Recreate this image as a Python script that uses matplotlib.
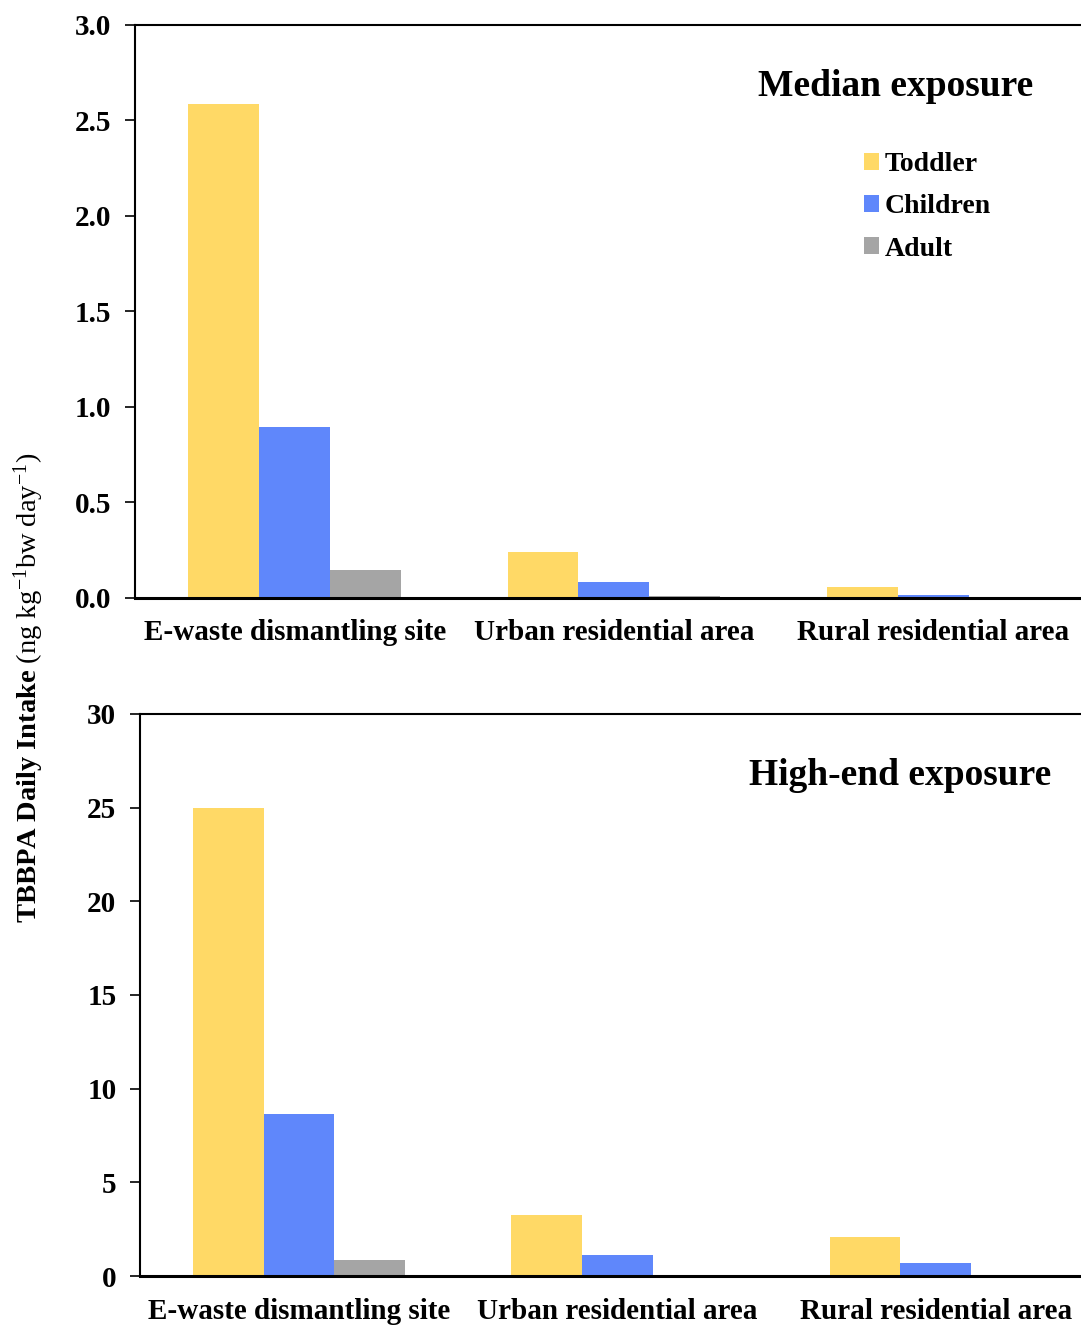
import matplotlib
matplotlib.use("Agg")
import matplotlib.pyplot as plt
import numpy as np

categories = ["E-waste dismantling site", "Urban residential area", "Rural residential area"]
groups = ["Toddler", "Children", "Adult"]
median_toddler = [2.586, 0.241, 0.058]
median_children = [0.895, 0.084, 0.016]
median_adult = [0.147, 0.010, 0.003]
high_toddler = [25.0, 3.26, 2.08]
high_children = [8.65, 1.12, 0.69]
high_adult = [0.85, 0.05, 0.02]
median_ticks = [0.0, 0.5, 1.0, 1.5, 2.0, 2.5, 3.0]
high_ticks = [0, 5, 10, 15, 20, 25, 30]
colors = ["#FFD966", "#5F87FB", "#A5A5A5"]

plt.rcParams["font.family"] = ["Liberation Serif", "DejaVu Serif"]
plt.rcParams["mathtext.fontset"] = "custom"
plt.rcParams["mathtext.rm"] = "Liberation Serif"
plt.rcParams["mathtext.bf"] = "Liberation Serif:bold"
plt.rcParams["mathtext.it"] = "Liberation Serif:italic"

fig = plt.figure(figsize=(10.81, 13.27), dpi=100)
ax1 = fig.add_axes([0.1249, 0.5494, 0.886, 0.4318])
ax2 = fig.add_axes([0.1295, 0.0384, 0.8834, 0.4236])

w = 0.222
x = np.arange(len(categories))

def draw(ax, series, ticks, fmt, title, tx, ty):
    for i, (vals, c, g) in enumerate(zip(series, colors, groups)):
        ax.bar(x + (i - 1) * w, vals, width=w, color=c, label=g, linewidth=0)
    ax.set_xlim(-0.5, 2.5)
    ax.set_ylim(ticks[0], ticks[-1])
    ax.set_yticks(ticks)
    ax.set_yticklabels([fmt.format(t) for t in ticks], fontsize=21, fontweight="bold")
    ax.set_xticks(x)
    ax.set_xticklabels(categories, fontsize=21, fontweight="bold")
    ax.tick_params(axis="x", length=0, pad=15.5)
    ax.tick_params(axis="y", direction="out", length=7, width=1.2, pad=10)
    ax.spines["right"].set_visible(False)
    ax.spines["left"].set_linewidth(1.5)
    ax.spines["top"].set_linewidth(1.5)
    ax.spines["bottom"].set_linewidth(2.2)
    ax.text(tx, ty, title, transform=ax.transAxes, ha="center", va="center",
            fontsize=27, fontweight="bold")

draw(ax1, [median_toddler, median_children, median_adult], median_ticks, "{:.1f}",
     "Median exposure", 0.794, 0.892)
draw(ax2, [high_toddler, high_children, high_adult], high_ticks, "{:d}",
     "High-end exposure", 0.796, 0.890)

leg = ax1.legend(loc="upper left", bbox_to_anchor=(0.761, 0.778), frameon=False,
                 prop={"size": 20, "weight": "bold"}, handlelength=0.55, handleheight=0.55,
                 handletextpad=0.2, labelspacing=0.62, borderpad=0, borderaxespad=0)

fig.text(0.027, 0.4815,
         r"$\mathbf{TBBPA\ Daily\ Intake}\ (\mathrm{ng\ kg^{-1}bw\ day^{-1}})$",
         rotation=90, ha="center", va="center", fontsize=20.5)

fig.savefig("out.png", dpi=100)
